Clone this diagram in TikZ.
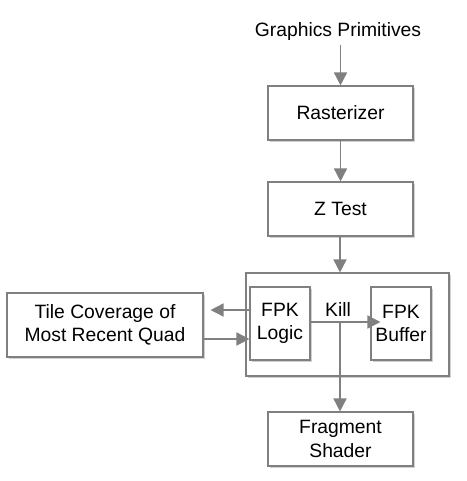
\documentclass[tikz,border=0pt]{standalone}
\usepackage{fontspec}
\setmainfont{Liberation Sans}
\usetikzlibrary{arrows.meta,shadows}
\begin{document}
\begin{tikzpicture}[x=1pt,y=-1pt,
  font=\fontsize{19.3}{23.5}\selectfont,
  blk/.style={draw=black!50,line width=1.1pt,fill=white,align=center,inner sep=0pt,
    drop shadow={shadow xshift=2pt,shadow yshift=-2pt,fill=black!18,opacity=1}},
  arr/.style={draw=black!50,line width=1.6pt,-{Triangle[length=13pt,width=13pt]}},
  ln/.style={draw=black!50,line width=1.6pt}]
\useasboundingbox (0,0) rectangle (466,481);
\node (gp) at (338,32) {Graphics Primitives};
\node[blk,minimum width=145pt,minimum height=54pt] (ras) at (340.5,113) {Rasterizer};
\node[blk,minimum width=145pt,minimum height=54pt] (zt) at (340.5,209) {Z Test};
\node[blk,minimum width=203pt,minimum height=103pt] (box) at (347.5,324.5) {};
\node[blk,minimum width=60pt,minimum height=73pt] (logic) at (280,323.5) {FPK\\Logic};
\node[blk,minimum width=60pt,minimum height=73pt] (buf) at (401,323.5) {FPK\\Buffer};
\node[blk,minimum width=196pt,minimum height=64pt] (tile) at (105,325) {Tile Coverage of\\Most Recent Quad};
\node[blk,minimum width=145pt,minimum height=54pt] (frag) at (340.5,439) {Fragment\\Shader};
\node (kill) at (338,310) {Kill};
\coordinate (kj) at (340,322);
\draw[arr] (gp.south -| ras.north) -- (ras.north);
\draw[arr] (ras) -- (zt);
\draw[arr] (zt.south -| kj) -- (box.north -| kj);
\draw[arr,shorten >=-10pt] (logic.east |- kj) -- (buf.west |- kj);
\draw[arr] (kj) -- (frag.north -| kj);
\draw[arr,shorten >=7pt] (logic.west |- 0,310) -- (tile.east |- 0,310);
\draw[arr] (tile.east |- 0,339) -- (logic.west |- 0,339);
\end{tikzpicture}
\end{document}
